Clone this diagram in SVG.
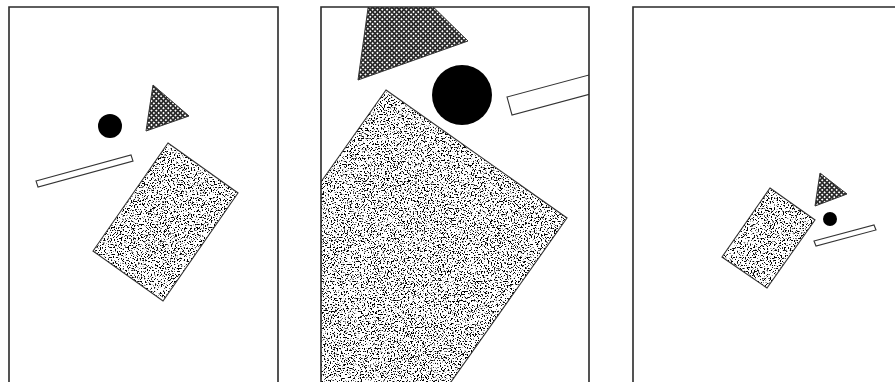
<svg xmlns="http://www.w3.org/2000/svg" width="895" height="382" viewBox="0 0 895 382">
<style>
.frame{fill:none;stroke:#2a2a2a;stroke-width:1.6}
.edge{fill:none;stroke:#333;stroke-width:1.1;stroke-linejoin:miter}
.bar{fill:#fff;stroke:#333;stroke-width:1.1}
.dot{fill:#000}
.hatch{fill:url(#hatch);stroke:#333;stroke-width:1}
.stip{fill:#000;filter:url(#stipple)}
</style>
<defs>
<pattern id="hatch" width="3.4" height="3.4" patternUnits="userSpaceOnUse" patternTransform="rotate(45)">
<rect width="3.4" height="3.4" fill="#2b2b2b"/>
<rect x="0.85" y="0.85" width="1.7" height="1.7" fill="#fff"/>
</pattern>
<filter id="stipple" x="0" y="0" width="1" height="1">
<feTurbulence type="fractalNoise" baseFrequency="0.7" numOctaves="2" seed="7" result="n"/>
<feColorMatrix in="n" type="matrix" values="0 0 0 0 0  0 0 0 0 0  0 0 0 0 0  12 0 0 0 -6.6" result="d"/>
<feComposite in="d" in2="SourceAlpha" operator="in"/>
</filter>
<clipPath id="c2"><rect x="321" y="7" width="268" height="380"/></clipPath>
</defs>
<rect width="895" height="382" fill="#fff"/>

<g id="panel1">
<path class="frame" d="M9,390 V7 H278 V390"/>
<circle class="dot" cx="110" cy="126" r="12"/>
<polygon class="hatch" points="153,85 189,116 146,131"/>
<polygon class="bar" points="36,181 131,155 133,161 38,187"/>
<polygon fill="#fff" points="168,143 238,193 163,301 93,251"/>
<polygon class="stip" points="168,143 238,193 163,301 93,251"/>
<polygon class="edge" points="168,143 238,193 163,301 93,251"/>
</g>

<g id="panel2">
<g clip-path="url(#c2)">
<polygon class="hatch" points="376,-49 468,41 358,80"/>
<circle class="dot" cx="462" cy="95" r="30"/>
<polygon class="bar" points="507,97 660,56 665,74 512,115"/>
<polygon fill="#fff" points="386,90 567,218 371,495 190,367"/>
<polygon class="stip" points="386,90 567,218 371,495 190,367"/>
<polygon class="edge" points="386,90 567,218 371,495 190,367"/>
</g>
<path class="frame" d="M321,390 V7 H589 V390"/>
</g>

<g id="panel3">
<path class="frame" d="M633,390 V7 H900"/>
<polygon class="hatch" points="820,173 847,194 815,206"/>
<circle class="dot" cx="830" cy="219" r="7"/>
<polygon class="bar" points="814,241 874,225 876,230 816,246"/>
<polygon fill="#fff" points="770,188 815,220 767,288 722,257"/>
<polygon class="stip" points="770,188 815,220 767,288 722,257"/>
<polygon class="edge" points="770,188 815,220 767,288 722,257"/>
</g>
</svg>
